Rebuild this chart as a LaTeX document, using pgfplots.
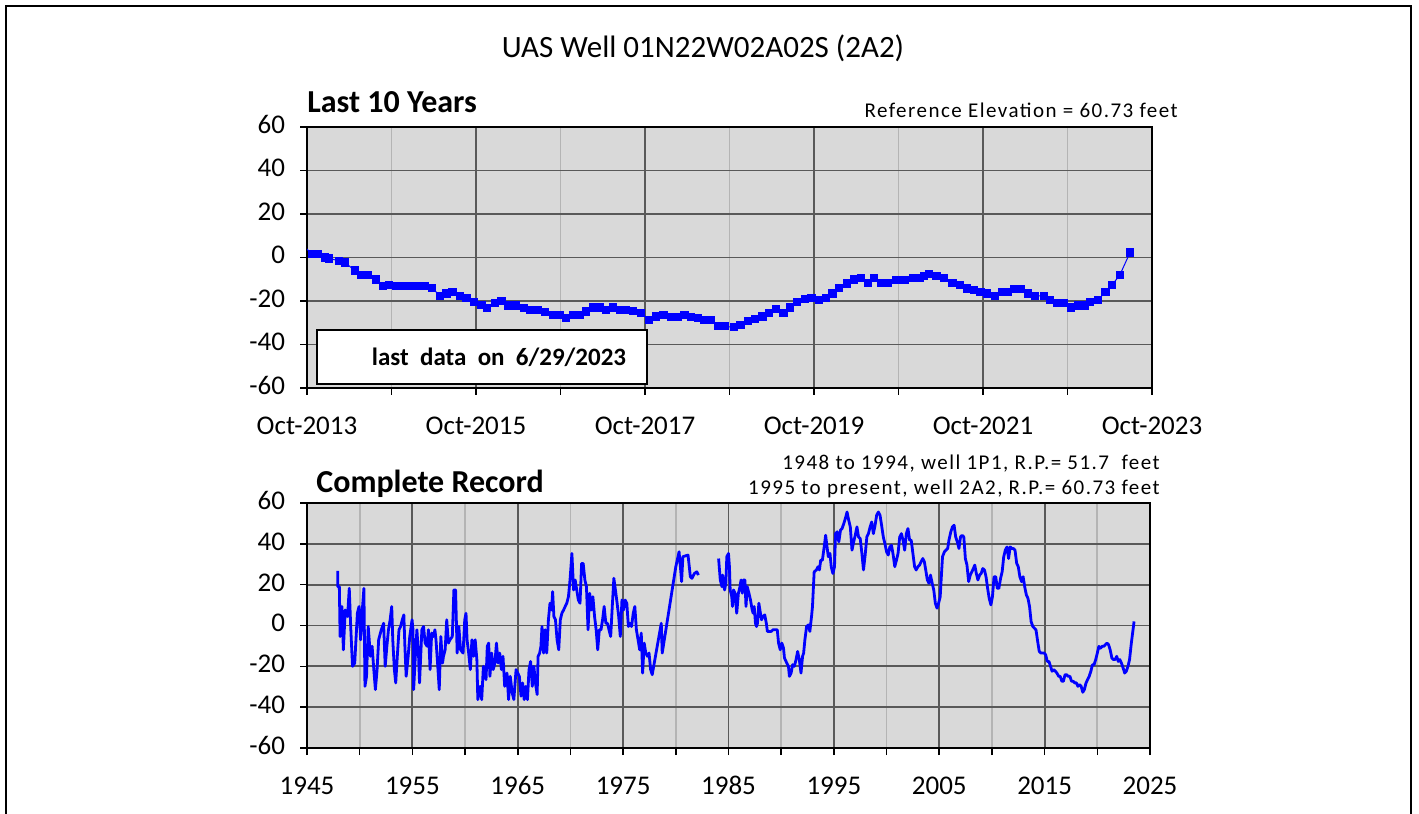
\documentclass[border=0pt]{standalone}
\usepackage{fontspec}
\setmainfont{Carlito}
\newfontfamily\spaced[LetterSpace=7]{Carlito}
\usepackage{pgfplots}
\pgfplotsset{compat=1.18}
\definecolor{plotbg}{HTML}{D9D9D9}
\definecolor{majgrid}{HTML}{595959}
\definecolor{mingrid}{HTML}{B4B4B4}
\pgfplotsset{
  wellaxis/.style={
    scale only axis,
    axis background/.style={fill=plotbg},
    ymin=-60, ymax=60, ytick={-60,-40,-20,0,20,40,60},
    xmajorgrids, ymajorgrids, xminorgrids,
    major grid style={majgrid, line width=0.9bp},
    minor grid style={mingrid, line width=0.9bp},
    axis line style={black, line width=0.8bp},
    tick align=outside,
    xtick pos=left, ytick pos=left,
    major tick length=3.5bp, minor tick length=3.5bp,
    every tick/.style={black, line width=0.8bp},
    typeset ticklabels with strut,
    tick label style={font=\fontsize{13.5bp}{16bp}\selectfont},
    xticklabel style={yshift=-5bp},
    yticklabel style={xshift=-4bp},
    /pgf/number format/.cd, 1000 sep={}, assume math mode=true,
  }
}
\begin{document}
\begin{tikzpicture}
\useasboundingbox (0,0) rectangle (709.5bp,407bp);
\draw[line width=1bp] (3bp,0) -- (3bp,404bp) -- (705.5bp,404bp) -- (705.5bp,0);

\begin{axis}[wellaxis, at={(153.5bp,213bp)}, anchor=south west,
  width=422.5bp, height=130.5bp,
  xmin=2013.75, xmax=2023.75,
  xtick={2013.75,2015.75,2017.75,2019.75,2021.75,2023.75},
  xticklabels={Oct-2013,Oct-2015,Oct-2017,Oct-2019,Oct-2021,Oct-2023},
  minor xtick={2014.75,2016.75,2018.75,2020.75,2022.75}]
\addplot[blue, line width=0.5bp, mark=square*, mark size=1.8bp, mark options={solid, fill=blue, draw=blue}] table {
t v
2013.70 6.0
2013.805 1.5
2013.884 1.5
2013.963 0.0
2014.014 -0.5
2014.132 -1.5
2014.199 -2.3
2014.317 -6.0
2014.396 -8.0
2014.475 -8.0
2014.566 -10.1
2014.652 -13.1
2014.723 -12.5
2014.810 -13.1
2014.889 -13.1
2014.987 -13.1
2015.066 -13.1
2015.145 -13.1
2015.231 -14.0
2015.322 -17.6
2015.401 -16.6
2015.472 -15.8
2015.559 -17.6
2015.637 -18.5
2015.728 -20.3
2015.815 -21.8
2015.882 -23.3
2015.972 -21.1
2016.051 -20.0
2016.130 -22.1
2016.228 -22.1
2016.315 -23.3
2016.386 -24.1
2016.484 -24.1
2016.563 -25.1
2016.662 -26.6
2016.741 -26.6
2016.811 -27.8
2016.898 -26.6
2016.977 -26.6
2017.056 -24.8
2017.134 -23.0
2017.213 -23.0
2017.292 -24.1
2017.371 -23.0
2017.450 -24.1
2017.529 -24.1
2017.607 -24.5
2017.706 -25.6
2017.797 -28.6
2017.883 -27.1
2017.970 -26.6
2018.060 -27.5
2018.139 -27.5
2018.218 -26.6
2018.297 -27.5
2018.376 -27.8
2018.454 -28.6
2018.533 -28.6
2018.612 -31.6
2018.690 -31.6
2018.80 -32.1
2018.88 -30.9
2018.97 -29.3
2019.05 -28.1
2019.14 -27.1
2019.22 -25.6
2019.30 -23.6
2019.39 -25.6
2019.47 -23.0
2019.55 -20.3
2019.64 -19.1
2019.72 -18.5
2019.81 -19.6
2019.89 -18.5
2019.97 -16.6
2020.05 -14.0
2020.14 -12.0
2020.22 -10.1
2020.31 -9.5
2020.39 -11.6
2020.46 -9.5
2020.54 -11.6
2020.62 -11.6
2020.72 -10.5
2020.82 -10.5
2020.92 -9.5
2021.00 -9.5
2021.05 -8.6
2021.11 -7.5
2021.20 -8.6
2021.29 -9.5
2021.39 -11.6
2021.48 -12.5
2021.56 -14.3
2021.64 -15.0
2021.72 -15.8
2021.80 -16.6
2021.89 -17.6
2021.98 -15.8
2022.04 -15.8
2022.12 -14.6
2022.20 -14.6
2022.28 -16.6
2022.37 -17.6
2022.47 -17.6
2022.54 -19.6
2022.63 -21.1
2022.71 -21.1
2022.79 -23.0
2022.87 -22.1
2022.95 -22.1
2023.02 -20.6
2023.11 -19.6
2023.20 -15.8
2023.28 -12.5
2023.37 -8.0
2023.49 2.3
};
\end{axis}

\draw[line width=1bp, fill=white] (158.5bp,215bp) rectangle (323.5bp,242bp);
\node[font=\fontsize{12.5bp}{15bp}\selectfont\bfseries] at (249.5bp,228.5bp) {last\ \ data\ \ on\ \ 6/29/2023};

\begin{axis}[wellaxis, at={(153.5bp,33bp)}, anchor=south west,
  width=421.5bp, height=122.5bp,
  xmin=1945, xmax=2025,
  xtick={1945,1955,1965,1975,1985,1995,2005,2015,2025},
  minor xtick={1950,1960,1970,1980,1990,2000,2010,2020}]
\addplot[blue, line width=1.4bp, line join=round] table {
t v
1947.92 26.8
1947.92 19.0
1948.07 19.0
1948.14 -5.4
1948.32 9.3
1948.45 -11.9
1948.63 7.6
1948.85 4.4
1949.01 18.2
1949.16 -2.1
1949.32 -20.0
1949.53 -18.4
1949.63 -8.6
1949.78 6.0
1949.94 9.3
1950.09 -7.0
1950.25 7.6
1950.40 18.2
1950.50 -29.8
1950.65 -24.9
1950.81 -0.5
1951.02 -15.1
1951.18 -10.2
1951.34 -21.6
1951.49 -31.4
1951.65 -21.6
1951.80 -7.0
1952.05 -2.1
1952.27 1.1
1952.42 -20.0
1952.58 -10.2
1952.73 -2.1
1952.89 2.8
1953.04 9.3
1953.14 -7.0
1953.29 -21.6
1953.42 -28.1
1953.57 -15.1
1953.73 -2.1
1953.88 -0.5
1954.04 2.8
1954.19 5.2
1954.29 -10.2
1954.41 -24.9
1954.60 -15.1
1954.75 -5.4
1954.84 -2.1
1954.97 2.8
1955.06 -2.1
1955.12 -31.4
1955.28 -15.1
1955.43 -2.1
1955.59 -15.1
1955.68 -28.1
1955.90 -2.1
1956.06 -0.5
1956.21 -8.6
1956.40 -10.2
1956.52 -2.1
1956.68 -21.6
1956.83 -3.7
1956.99 -5.4
1957.14 -2.1
1957.24 -7.0
1957.39 -18.4
1957.55 -31.4
1957.70 -5.4
1957.86 -18.4
1957.95 -15.1
1958.11 -11.9
1958.26 2.8
1958.42 -8.6
1958.57 -7.0
1958.79 -5.4
1958.94 17.4
1959.10 17.4
1959.25 -13.5
1959.41 -0.5
1959.57 -11.9
1959.81 -13.5
1959.97 2.8
1960.09 6.0
1960.19 -7.0
1960.34 -13.5
1960.50 -21.6
1960.65 -7.0
1960.81 -15.1
1960.96 -7.0
1961.12 -16.7
1961.21 -36.3
1961.43 -29.8
1961.58 -36.3
1961.74 -20.0
1961.99 -26.5
1962.11 -10.2
1962.24 -8.6
1962.36 -24.9
1962.52 -13.5
1962.67 -21.6
1962.83 -18.4
1962.98 -8.6
1963.14 -18.4
1963.29 -13.5
1963.45 -21.6
1963.60 -15.1
1963.76 -29.8
1963.98 -23.3
1964.13 -36.3
1964.29 -24.9
1964.47 -33.0
1964.63 -36.3
1964.84 -21.6
1965.15 -24.9
1965.31 -34.6
1965.46 -28.1
1965.61 -36.3
1965.77 -29.8
1965.92 -36.3
1966.07 -21.6
1966.22 -17.6
1966.38 -29.8
1966.53 -20.0
1966.68 -28.1
1966.84 -33.8
1966.93 -15.1
1967.08 -13.5
1967.20 -10.2
1967.30 -0.5
1967.45 -13.5
1967.60 -2.1
1967.75 -13.5
1967.91 2.8
1968.06 10.9
1968.21 7.6
1968.31 16.6
1968.43 4.4
1968.58 2.8
1968.73 -7.0
1968.89 -11.9
1969.04 2.8
1969.19 6.0
1969.35 7.6
1969.50 9.3
1969.65 10.9
1969.81 14.1
1969.96 22.3
1970.14 35.3
1970.30 17.4
1970.45 22.3
1970.60 17.4
1970.75 12.5
1970.91 10.9
1971.06 30.4
1971.21 30.4
1971.37 22.3
1971.52 19.0
1971.67 -2.1
1971.83 15.8
1971.98 7.6
1972.13 14.1
1972.29 4.4
1972.44 -2.1
1972.59 -11.9
1972.74 -2.1
1972.90 -2.1
1973.05 2.8
1973.20 9.3
1973.36 1.1
1973.51 1.1
1973.66 -2.1
1973.82 -5.4
1973.97 9.3
1974.12 23.1
1974.27 17.4
1974.43 10.9
1974.58 4.4
1974.73 -5.4
1974.89 12.5
1975.04 7.6
1975.19 12.5
1975.35 10.9
1975.50 -0.5
1975.65 1.1
1975.80 -0.5
1975.96 6.0
1976.11 9.3
1976.26 -2.1
1976.42 -7.0
1976.57 -11.9
1976.72 -3.7
1976.85 -23.3
1977.00 -8.6
1977.15 -13.5
1977.30 -15.1
1977.46 -13.5
1977.61 -21.6
1977.76 -24.1
1978.62 1.1
1978.71 -13.5
1980.00 28.8
1980.31 36.1
1980.46 27.2
1980.55 21.5
1980.67 33.7
1981.16 34.5
1981.38 23.9
1981.53 23.1
1981.77 25.5
1981.99 26.3
1982.14 24.7
};
\addplot[blue, line width=1.4bp, line join=round] table {
t v
1984.06 32.8
1984.22 22.3
1984.38 19.0
1984.44 24.7
1984.63 17.4
1984.75 20.7
1984.84 33.7
1985.00 35.3
1985.09 28.8
1985.16 17.4
1985.31 14.1
1985.38 9.3
1985.47 17.4
1985.63 15.8
1985.78 6.0
1985.94 15.8
1986.09 19.0
1986.19 22.3
1986.31 15.8
1986.41 22.3
1986.56 22.3
1986.66 9.3
1986.78 19.0
1986.94 15.8
1987.09 12.5
1987.25 7.6
1987.34 6.0
1987.44 9.3
1987.56 1.1
1987.66 -0.5
1987.75 1.1
1987.88 10.9
1988.03 6.0
1988.13 2.8
1988.28 4.4
1988.44 5.2
1988.59 1.1
1988.69 -2.9
1988.91 -2.9
1989.06 -2.9
1989.22 -2.1
1989.38 -2.1
1989.63 -2.1
1989.75 -8.6
1989.91 -11.9
1990.06 -8.6
1990.22 -11.1
1990.31 -15.9
1990.53 -18.4
1990.69 -20.0
1990.78 -24.9
1990.94 -23.3
1991.09 -19.2
1991.25 -20.0
1991.41 -16.7
1991.56 -12.7
1991.72 -16.7
1991.88 -23.3
1992.03 -15.1
1992.13 -13.5
1992.25 -7.0
1992.41 -0.5
1992.59 0.3
1992.72 -2.9
1992.88 4.4
1992.97 9.3
1993.13 26.3
1993.34 27.2
1993.50 28.8
1993.63 27.2
1993.75 32.0
1993.91 32.0
1994.06 37.7
1994.22 44.2
1994.31 40.2
1994.47 33.7
1994.63 35.3
1994.75 28.8
1994.91 25.5
1995.06 28.8
1995.16 45.0
1995.31 45.9
1995.47 41.0
1995.63 46.7
1995.78 47.5
1995.94 49.9
1996.09 52.4
1996.25 55.6
1996.41 51.5
1996.56 48.3
1996.72 36.9
1996.88 41.0
1997.03 44.2
1997.19 48.3
1997.34 43.4
1997.50 42.6
1997.66 35.3
1997.81 27.2
1997.97 34.5
1998.13 43.4
1998.28 45.0
1998.44 48.3
1998.59 50.7
1998.75 45.0
1998.91 49.1
1999.06 54.0
1999.22 55.6
1999.38 54.0
1999.53 49.1
1999.69 43.4
1999.84 40.2
2000.00 36.1
2000.16 34.5
2000.31 38.5
2000.47 39.3
2000.63 34.5
2000.78 28.8
2000.94 32.0
2001.09 35.3
2001.25 43.4
2001.41 45.0
2001.56 41.8
2001.72 36.9
2001.88 45.0
2002.03 47.5
2002.19 41.8
2002.34 41.8
2002.50 35.3
2002.66 28.8
2002.81 27.2
2002.97 28.8
2003.13 29.6
2003.28 31.2
2003.44 32.8
2003.59 31.2
2003.87 22.3
2004.02 20.7
2004.17 24.7
2004.33 20.7
2004.48 17.4
2004.63 10.9
2004.79 8.5
2004.94 10.9
2005.09 14.1
2005.18 22.3
2005.31 33.7
2005.49 36.1
2005.64 36.9
2005.80 37.7
2005.92 41.8
2006.10 45.9
2006.25 48.3
2006.41 49.1
2006.56 43.4
2006.71 41.0
2006.87 37.7
2007.02 43.4
2007.17 44.2
2007.33 43.4
2007.48 32.8
2007.63 29.6
2007.79 21.5
2007.94 24.7
2008.09 26.3
2008.24 27.9
2008.37 29.6
2008.52 25.5
2008.67 22.3
2008.83 24.7
2008.98 25.5
2009.13 27.9
2009.29 27.2
2009.44 23.9
2009.59 18.2
2009.74 13.3
2009.90 10.1
2010.05 14.1
2010.20 23.9
2010.36 23.9
2010.51 18.2
2010.66 18.2
2010.82 23.1
2010.97 26.3
2011.12 33.7
2011.27 36.9
2011.43 38.5
2011.58 32.8
2011.73 38.5
2011.89 37.7
2012.04 37.7
2012.19 36.9
2012.35 30.4
2012.50 28.8
2012.65 23.9
2012.81 21.5
2012.96 23.9
2013.11 19.0
2013.27 14.9
2013.42 13.3
2013.57 9.3
2013.72 1.9
2013.88 -0.5
2014.03 -1.3
2014.18 -2.1
2014.34 -7.8
2014.49 -12.7
2014.64 -13.5
2014.80 -13.5
2014.95 -13.5
2015.10 -14.3
2015.25 -17.6
2015.41 -17.6
2015.56 -20.0
2015.71 -22.4
2015.87 -21.6
2016.02 -22.4
2016.17 -23.3
2016.33 -24.9
2016.48 -24.9
2016.63 -27.3
2016.78 -27.3
2016.94 -24.1
2017.09 -24.1
2017.24 -24.9
2017.40 -24.9
2017.55 -27.3
2017.70 -27.3
2017.86 -28.1
2018.01 -28.1
2018.16 -29.8
2018.32 -29.0
2018.47 -29.8
2018.62 -32.7
2018.77 -31.4
2018.93 -28.1
2019.08 -26.5
2019.23 -24.9
2019.39 -22.4
2019.54 -19.2
2019.69 -19.2
2019.85 -16.7
2020.00 -13.5
2020.15 -10.2
2020.30 -11.1
2020.46 -10.2
2020.61 -10.2
2020.76 -9.4
2020.92 -8.6
2021.07 -9.4
2021.22 -11.9
2021.38 -15.9
2021.53 -16.7
2021.68 -16.7
2021.84 -15.1
2021.99 -17.6
2022.14 -16.7
2022.29 -18.4
2022.45 -20.8
2022.60 -23.3
2022.75 -22.4
2022.91 -20.0
2023.06 -16.7
2023.23 -8.6
2023.49 2.0
};
\end{axis}

\node[font=\fontsize{15.5bp}{18bp}\selectfont] at (351.5bp,383bp) {UAS Well 01N22W02A02S (2A2)};
\node[font=\fontsize{16bp}{19bp}\selectfont\bfseries, anchor=west, inner sep=0pt] at (153.5bp,356bp) {Last 10 Years};
\node[font=\fontsize{10.5bp}{13bp}\selectfont\spaced, anchor=east, inner sep=0pt] at (589bp,352bp) {Reference Elevation = 60.73 feet};
\node[font=\fontsize{10.5bp}{13bp}\selectfont\spaced, anchor=east, inner sep=0pt] at (580bp,175bp) {1948 to 1994, well 1P1, R.P.= 51.7\ \ feet};
\node[font=\fontsize{10.5bp}{13bp}\selectfont\spaced, anchor=east, inner sep=0pt] at (580bp,162.5bp) {1995 to present, well 2A2, R.P.= 60.73 feet};
\node[font=\fontsize{16bp}{19bp}\selectfont\bfseries, anchor=west, inner sep=0pt] at (158bp,165bp) {Complete Record};
\end{tikzpicture}
\end{document}
